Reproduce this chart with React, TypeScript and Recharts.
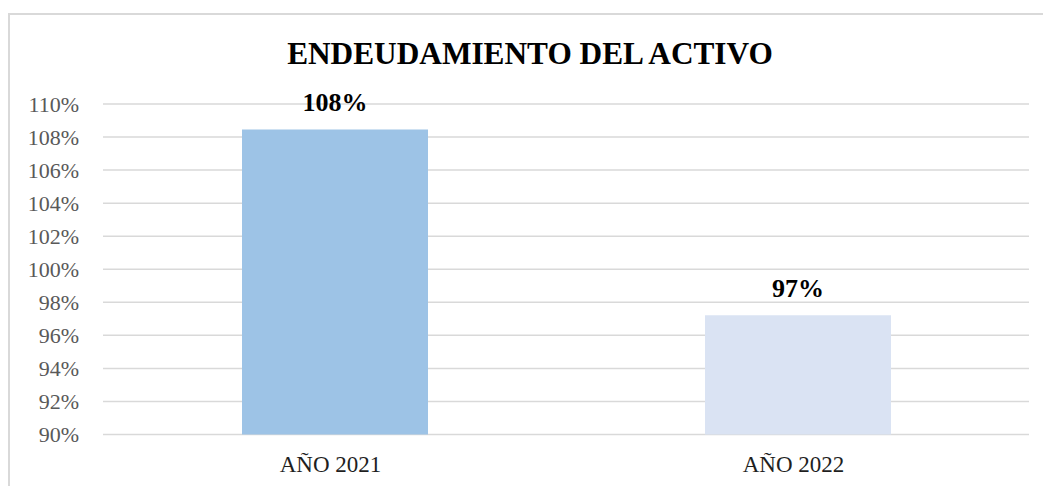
import { BarChart, Bar, XAxis, YAxis, CartesianGrid, Cell, LabelList } from 'recharts'

const years = ['AÑO 2021', 'AÑO 2022']
const ratios = [108.46, 97.22]
const ratioLabels = ['108%', '97%']
const yTicks = [90, 92, 94, 96, 98, 100, 102, 104, 106, 108, 110]
const barColors = ['#9DC3E6', '#DAE3F3']

const data = years.map((year, i) => ({ year, value: ratios[i], label: ratioLabels[i] }))

const serif = '"Liberation Serif", "Times New Roman", serif'

export default function App() {
  return (
    <div style={{ position: 'absolute', left: 0, top: 0, width: 1043, height: 486, overflow: 'hidden', background: '#fff' }}>
      <div
        style={{
          position: 'absolute',
          left: 8,
          top: 13,
          width: 1100,
          height: 600,
          borderTop: '2px solid #D9D9D9',
          borderLeft: '2px solid #D9D9D9',
        }}
      />
      <div
        style={{
          position: 'absolute',
          left: 0,
          top: 37.5,
          width: 1060,
          textAlign: 'center',
          fontFamily: serif,
          fontWeight: 'bold',
          fontSize: 31.3,
          lineHeight: '31px',
          color: '#000',
        }}
      >
        ENDEUDAMIENTO DEL ACTIVO
      </div>
      <div style={{ position: 'absolute', left: 0, top: 0 }}>
        <BarChart width={1043} height={486} data={data} margin={{ top: 104, right: 14, bottom: 21.5, left: 8 }}>
          <CartesianGrid vertical={false} stroke="#D9D9D9" strokeWidth={1.5} />
          <XAxis
            dataKey="year"
            axisLine={false}
            tickLine={false}
            height={30}
            tickMargin={15}
            tick={{ fontFamily: serif, fontSize: 23, fill: '#1F1F1F', dx: -4 }}
          />
          <YAxis
            domain={[90, 110]}
            ticks={yTicks}
            width={95}
            axisLine={false}
            tickLine={false}
            tickMargin={18}
            tickFormatter={(v: number) => `${v}%`}
            tick={{ fontFamily: serif, fontSize: 22, fill: '#595959' }}
          />
          <Bar dataKey="value" barSize={186} isAnimationActive={false}>
            {data.map((d, i) => (
              <Cell key={d.year} fill={barColors[i]} />
            ))}
            <LabelList
              dataKey="label"
              position="top"
              offset={18}
              style={{ fontFamily: serif, fontSize: 26, fontWeight: 'bold', fill: '#000' }}
            />
          </Bar>
        </BarChart>
      </div>
    </div>
  )
}
